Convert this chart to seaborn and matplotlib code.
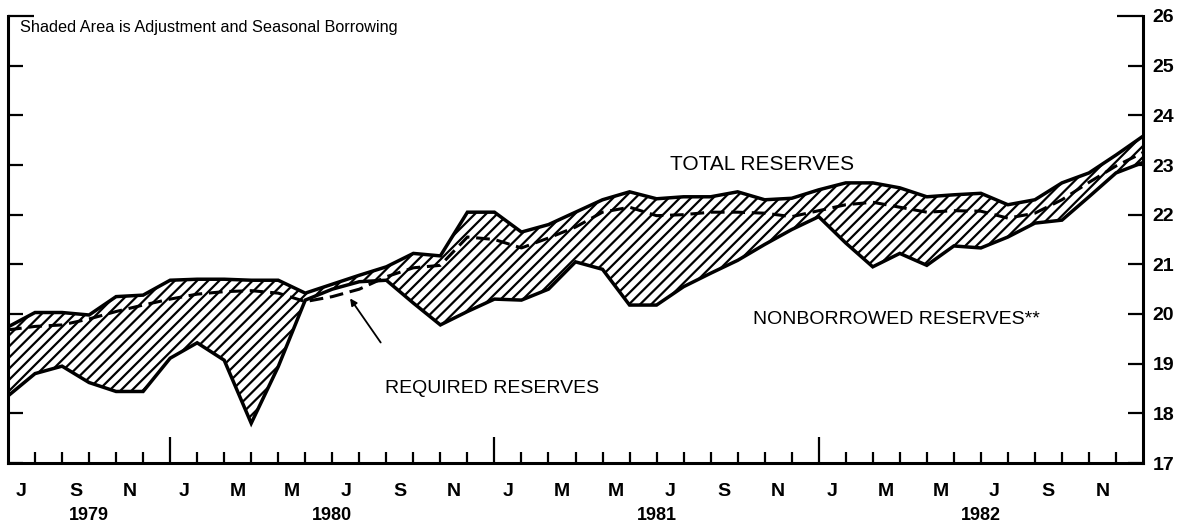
import numpy as np
import matplotlib
matplotlib.use("Agg")
import matplotlib.pyplot as plt
from matplotlib.ticker import FixedLocator, NullFormatter, FixedFormatter
import seaborn as sns

# ---- data: values at the start of each month, Jul 1979 .. Jan 1983 (billions $) ----
months_from_jul79 = list(range(43))
total_reserves = [19.74, 20.03, 20.03, 19.98, 20.35, 20.38, 20.68, 20.70, 20.70, 20.68,
                  20.68, 20.42, 20.60, 20.78, 20.95, 21.22, 21.17, 22.05, 22.05, 21.65,
                  21.80, 22.05, 22.30, 22.46, 22.32, 22.36, 22.36, 22.46, 22.30, 22.33,
                  22.50, 22.64, 22.64, 22.54, 22.36, 22.40, 22.43, 22.20, 22.30, 22.64,
                  22.84, 23.20, 23.58]
nonborrowed_reserves = [18.35, 18.80, 18.95, 18.62, 18.44, 18.44, 19.11, 19.42, 19.07, 17.80,
                        18.94, 20.28, 20.50, 20.65, 20.68, 20.22, 19.78, 20.05, 20.30, 20.28,
                        20.50, 21.05, 20.90, 20.18, 20.18, 20.55, 20.82, 21.08, 21.40, 21.70,
                        21.96, 21.43, 20.95, 21.22, 20.98, 21.37, 21.33, 21.55, 21.83, 21.89,
                        22.36, 22.84, 23.05]
required_reserves = [19.68, 19.75, 19.78, 19.90, 20.05, 20.18, 20.30, 20.40, 20.45, 20.47,
                     20.42, 20.25, 20.35, 20.50, 20.75, 20.93, 20.98, 21.55, 21.50, 21.33,
                     21.53, 21.75, 22.05, 22.15, 21.98, 22.00, 22.05, 22.05, 22.03, 21.96,
                     22.08, 22.20, 22.25, 22.15, 22.05, 22.08, 22.07, 21.93, 22.03, 22.30,
                     22.65, 22.98, 23.25]
month_letters = ["J", "S", "N", "J", "M", "M", "J", "S", "N", "J", "M", "M",
                 "J", "S", "N", "J", "M", "M", "J", "S", "N"]
year_labels = ["1979", "1980", "1981", "1982"]
year_label_pos = [3, 12, 24, 36]
year_boundaries = [6, 18, 30]
y_ticks = [17, 18, 19, 20, 21, 22, 23, 24, 25, 26]

sns.set_theme(style="white")
plt.rcParams["font.family"] = ["Liberation Sans", "DejaVu Sans"]
plt.rcParams["hatch.linewidth"] = 1.6

fig = plt.figure(figsize=(11.95, 5.25), dpi=100)
ax = fig.add_axes([8 / 1195, 62 / 525, 1135 / 1195, 447 / 525])

x = np.array(months_from_jul79, dtype=float)
tot = np.array(total_reserves)
nb = np.array(nonborrowed_reserves)
req = np.array(required_reserves)

# shaded borrowing area
ax.fill_between(x, nb, tot, facecolor="white", edgecolor="black", hatch="///", linewidth=0)

sns.lineplot(x=x, y=tot, ax=ax, color="black", linewidth=2.5, solid_joinstyle="miter")
sns.lineplot(x=x, y=nb, ax=ax, color="black", linewidth=2.5, solid_joinstyle="miter")
sns.lineplot(x=x, y=req, ax=ax, color="black", linewidth=2.2, linestyle=(0, (4.5, 2.2)))

ax.set_xlim(0, 42)
ax.set_ylim(17, 26)

for s in ["left", "right", "bottom"]:
    ax.spines[s].set_visible(True)
    ax.spines[s].set_color("black")
    ax.spines[s].set_linewidth(2.2)
ax.spines["top"].set_visible(False)

# y ticks: 26 longer (major), others minor
ax.yaxis.set_major_locator(FixedLocator([26]))
ax.yaxis.set_minor_locator(FixedLocator(y_ticks[:-1]))
ax.yaxis.set_major_formatter(FixedFormatter(["26"]))
ax.yaxis.set_minor_formatter(FixedFormatter([str(v) for v in y_ticks[:-1]]))
ax.yaxis.set_ticks_position("both")
ax.tick_params(axis="y", which="major", direction="in", length=19, width=1.6,
               left=True, right=True, labelleft=False, labelright=True,
               labelsize=14, pad=7, colors="black")
ax.tick_params(axis="y", which="minor", direction="in", length=10.5, width=1.6,
               left=True, right=True, labelleft=False, labelright=True,
               labelsize=14, pad=7, colors="black")
for lab in ax.get_yticklabels(which="both"):
    lab.set_fontweight("bold")

# x ticks: month boundaries (minor), year boundaries (major)
ax.xaxis.set_major_locator(FixedLocator(year_boundaries))
ax.xaxis.set_minor_locator(FixedLocator(list(range(1, 42))))
ax.xaxis.set_major_formatter(NullFormatter())
ax.xaxis.set_minor_formatter(NullFormatter())
ax.tick_params(axis="x", which="major", direction="in", length=19, width=1.6,
               bottom=True, top=False, colors="black")
ax.tick_params(axis="x", which="minor", direction="in", length=8, width=1.6,
               bottom=True, top=False, colors="black")

trans = ax.get_xaxis_transform()
for i, letter in enumerate(month_letters):
    ax.text(2 * i + 0.5, -0.063, letter, transform=trans, ha="center", va="center",
            fontsize=14, fontweight="bold", color="black")
for pos, yl in zip(year_label_pos, year_labels):
    ax.text(pos, -0.118, yl, transform=trans, ha="center", va="center",
            fontsize=13, fontweight="bold", color="black")

ax.text(0.45, 25.76, "Shaded Area is Adjustment and Seasonal Borrowing",
        ha="left", va="center", fontsize=11.7, color="black")
ax.text(24.5, 23.0, "TOTAL RESERVES", ha="left", va="center", fontsize=15, color="black")
ax.text(27.55, 19.88, "NONBORROWED RESERVES**", ha="left", va="center", fontsize=14, color="black")
ax.text(13.96, 18.51, "REQUIRED RESERVES", ha="left", va="center", fontsize=14, color="black")

tx = 12.6
ty = np.interp(tx, x, req) - 0.08
ax.annotate("", xy=(tx, ty), xytext=(13.85, 19.38),
            arrowprops=dict(arrowstyle="-|>", color="black", lw=1.3, mutation_scale=10))

ax.grid(False)
ax.set_facecolor("white")
fig.savefig("out.png", dpi=100, facecolor="white")
